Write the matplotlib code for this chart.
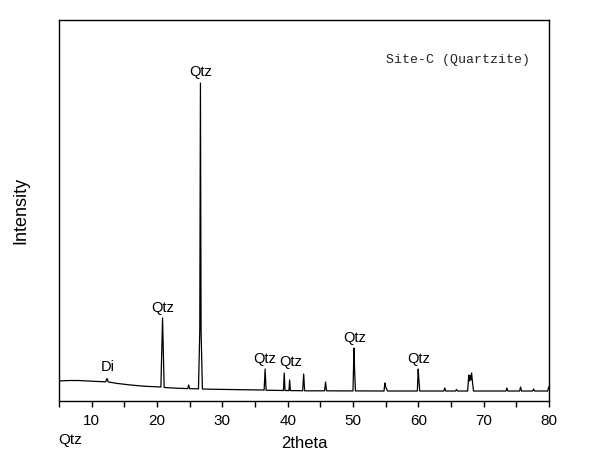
import matplotlib
matplotlib.use("Agg")
import matplotlib.pyplot as plt
from matplotlib.ticker import MultipleLocator

plt.rcParams['font.family'] = ['Liberation Sans', 'DejaVu Sans']

# XRD pattern vertices (2theta, intensity in a.u.)
two_theta = [5.0, 6.5, 8.0, 9.5, 11.0, 12.15, 12.35, 12.55, 14.0, 16.0, 18.0,
             20.6, 20.85, 21.1, 23.0, 24.7, 24.85, 25.0, 26.35, 26.55, 26.65,
             26.75, 26.95, 29.0, 32.0, 34.0, 36.4, 36.55, 36.7, 38.5, 39.35,
             39.48, 39.6, 40.2, 40.3, 40.42, 42.3, 42.45, 42.6, 45.65, 45.8,
             45.95, 48.0, 50.0, 50.15, 50.25, 50.38, 54.75, 54.88, 55.0, 55.15,
             55.3, 57.5, 59.85, 59.98, 60.1, 60.22, 63.9, 64.05, 64.2, 65.7,
             65.85, 66.0, 67.55, 67.72, 67.82, 67.92, 68.02, 68.15, 68.3, 68.45,
             71.0, 73.4, 73.55, 73.7, 75.5, 75.65, 75.8, 77.5, 77.65, 77.8,
             79.8, 79.95, 80.0]
intensity = [200, 205, 205, 200, 195, 192, 225, 190, 175, 160, 148,
             140, 830, 135, 128, 124, 160, 123, 122, 700, 3180,
             700, 120, 117, 114, 112, 110, 320, 108, 106, 105,
             280, 105, 104, 210, 104, 103, 270, 102, 102, 190,
             102, 101, 101, 530, 300, 101, 100, 180, 140, 120,
             100, 100, 100, 320, 200, 100, 100, 130, 100, 100,
             115, 100, 100, 260, 200, 255, 210, 280, 180, 100,
             100, 100, 130, 100, 100, 140, 100, 100, 120, 100,
             100, 140, 130]

# phase labels (text, 2theta, intensity)
label_text = ['Di', 'Qtz', 'Qtz', 'Qtz', 'Qtz', 'Qtz', 'Qtz']
label_x = [12.5, 20.85, 26.65, 36.55, 40.4, 50.3, 60.0]
label_y = [340, 930, 3290, 420, 390, 630, 420]

fig = plt.figure(figsize=(6, 4.72), dpi=100)
ax = fig.add_axes([0.0983, 0.1504, 0.8167, 0.8072])

ax.plot(two_theta, intensity, color='black', lw=0.9)

for t, x, y in zip(label_text, label_x, label_y):
    ax.text(x, y, t, ha='center', va='center', fontsize=10.5)

ax.text(0.814, 0.895, 'Site-C (Quartzite)', transform=ax.transAxes,
        ha='center', va='center', fontsize=9.5, family='Liberation Mono',
        color='#222222')

ax.set_xlim(5, 80)
ax.set_ylim(0, 3810)
ax.xaxis.set_major_locator(MultipleLocator(10))
ax.xaxis.set_minor_locator(MultipleLocator(5))
ax.tick_params(axis='x', which='both', direction='out', length=4, width=1,
               labelsize=11, pad=5)
ax.set_yticks([])
for s in ax.spines.values():
    s.set_linewidth(1)

ax.set_xlabel('2theta', fontsize=12, labelpad=6)
ax.set_ylabel('Intensity', fontsize=13, labelpad=21)

fig.text(0.097, 0.068, 'Qtz', ha='left', va='center', fontsize=11)

fig.savefig('out.png', dpi=100)
